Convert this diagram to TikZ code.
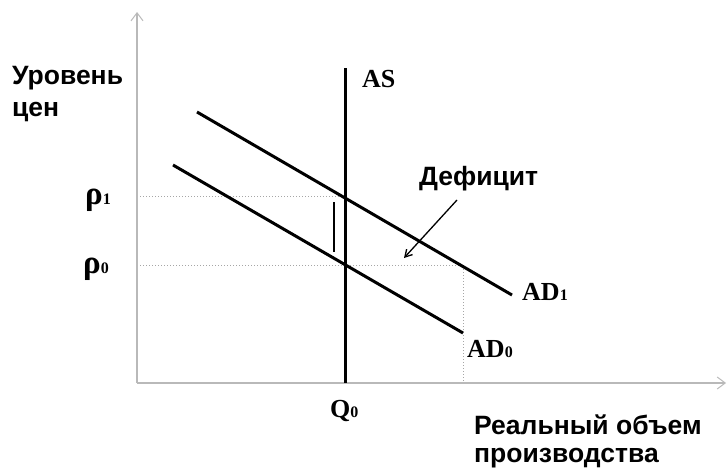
\documentclass[tikz,border=0pt]{standalone}
\usepackage{fontspec}
\setmainfont{Liberation Serif}
\newfontfamily\lsans{Liberation Sans}
\usetikzlibrary{arrows.meta}
\newcommand{\subdig}[1]{{\fontsize{16}{16}\selectfont #1}}
\newcommand{\bigrho}{{\fontsize{33}{33}\selectfont ρ}}
\begin{document}
\begin{tikzpicture}[x=1pt,y=-1pt]
\useasboundingbox (0,0) rectangle (728,469);
\tikzset{
  axis/.style={draw=gray!55, line width=1.6pt, -{Straight Barb[length=8pt,width=12pt,line width=1pt]}},
  curve/.style={draw=black, line width=3pt},
  guide/.style={draw=gray!70, line width=1pt, dotted},
  sanslab/.style={font=\lsans\bfseries\fontsize{26.5}{30}\selectfont, inner sep=0pt, anchor=base west},
  serlab/.style={font=\bfseries\fontsize{26}{30}\selectfont, inner sep=0pt, anchor=base west},
  pointer/.style={draw=black, line width=1.3pt, -{Straight Barb[length=7pt,width=8pt]}},
}
% coordinates
\coordinate (O) at (137,383);
\coordinate (ytop) at (137,12);
\coordinate (xend) at (726,383);
\coordinate (AStop) at (345,68);
\coordinate (ASbot) at (345,383);
\coordinate (AD0a) at (173,165);
\coordinate (AD0b) at (463,333);
\coordinate (AD1a) at (197,112);
\coordinate (AD1b) at (512,295);
\coordinate (P1) at (137,196);
\coordinate (E1) at (345,196);
\coordinate (P0) at (137,265);
\coordinate (C0) at (463,265);
\coordinate (Cb) at (463,383);
\coordinate (bara) at (334,202);
\coordinate (barb) at (334,252);
\coordinate (arrS) at (457,200);
\coordinate (arrE) at (404,258);
% guides
\draw[guide] (P1) -- (E1);
\draw[guide] (P0) -- (C0) -- (Cb);
% axes
\draw[axis] (O) -- (ytop);
\draw[axis] (O) -- (xend);
% curves
\draw[curve] (AStop) -- (ASbot);
\draw[curve] (AD0a) -- (AD0b);
\draw[curve] (AD1a) -- (AD1b);
\draw[draw=black, line width=2.5pt] (bara) -- (barb);
\draw[pointer] (arrS) -- (arrE);
% labels
\node[sanslab] (ylab1) at (12,84) {Уровень};
\node[sanslab] (ylab2) at (12,116) {цен};
\node[serlab] (p1) at (85,204) {\bigrho\subdig{1}};
\node[serlab] (p0) at (83,273) {\bigrho\subdig{0}};
\node[serlab] (as) at (362,87) {AS};
\node[sanslab] (def) at (419,185) {Дефицит};
\node[serlab] (ad1) at (522,300) {AD\subdig{1}};
\node[serlab] (ad0) at (467,357) {AD\subdig{0}};
\node[serlab] (q0) at (330,417) {Q\subdig{0}};
\node[sanslab] (xlab1) at (474,434) {Реальный объем};
\node[sanslab] (xlab2) at (474,462) {производства};
\end{tikzpicture}
\end{document}
